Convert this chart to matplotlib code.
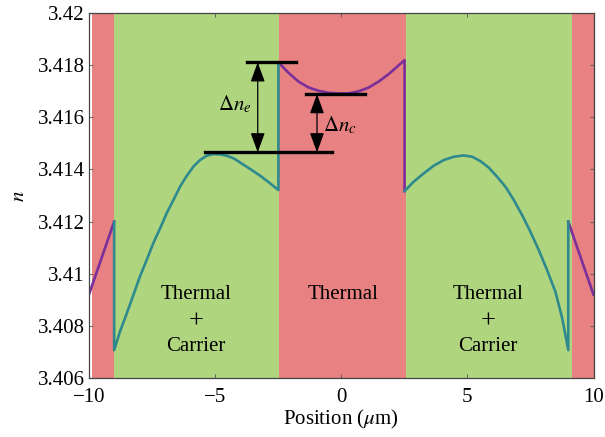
import numpy as np
import matplotlib
matplotlib.use("Agg")
from matplotlib import pyplot as plt

plt.rcParams["font.family"] = ["Liberation Serif", "DejaVu Serif"]
plt.rcParams["mathtext.fontset"] = "stix"
plt.rcParams["font.size"] = 15

# region boundaries (um)
bands = [(-9.88, -9.0, "red"), (-9.0, -2.48, "green"), (-2.48, 2.55, "red"),
         (2.55, 9.15, "green"), (9.15, 10.0, "red")]

# outer thermal-only segments
outer_l_x = [-10.0, -9.5, -9.0]
outer_l_y = [3.4092, 3.4106, 3.4120]
outer_r_x = [9.0, 9.5, 10.0]
outer_r_y = [3.4120, 3.4106, 3.4092]

# thermal + carrier, left
left_x = [-9.0, -9.0, -8.77, -8.50, -8.24, -7.98, -7.71, -7.45, -7.18, -6.92,
          -6.65, -6.39, -6.12, -5.86, -5.60, -5.33, -5.07, -4.80, -4.54, -4.27,
          -4.01, -3.61, -3.21, -2.82, -2.49, -2.49]
left_y = [3.4120, 3.40707, 3.40778, 3.40848, 3.40918, 3.40989, 3.41053, 3.41117,
          3.41174, 3.41232, 3.41283, 3.41334, 3.41376, 3.41411, 3.41436, 3.41453,
          3.41459, 3.41458, 3.41453, 3.41443, 3.41427, 3.41402, 3.41376, 3.41347,
          3.41321, 3.41811]

# thermal only, centre
mid_x = [-2.49, -2.09, -1.69, -1.30, -0.90, -0.50, -0.11, 0.29, 0.69, 1.08,
         1.48, 1.88, 2.21, 2.51, 2.51]
mid_y = [3.41811, 3.41771, 3.41737, 3.41715, 3.41702, 3.41694, 3.41692, 3.41692,
         3.41700, 3.41714, 3.41737, 3.41766, 3.41794, 3.41820, 3.41317]

# thermal + carrier, right
right_x = [2.51, 2.87, 3.27, 3.66, 4.06, 4.46, 4.85, 5.19, 5.52, 5.85, 6.18,
           6.51, 6.84, 7.17, 7.50, 7.83, 8.16, 8.49, 8.76, 9.0, 9.0]
right_y = [3.41317, 3.41353, 3.41385, 3.41414, 3.41436, 3.41449, 3.41454, 3.41449,
           3.41432, 3.41407, 3.41372, 3.41334, 3.41283, 3.41225, 3.41161, 3.41091,
           3.41014, 3.40931, 3.40829, 3.40707, 3.4120]

# annotation levels
n_top_e = 3.41811
n_top_c = 3.41689
n_base = 3.41466

RED = "#e88181"
GREEN = "#b0d57f"
PURPLE = "#7a2f9a"
TEAL = "#2f8a8e"

fig = plt.figure(figsize=(6.05, 4.37), dpi=100)
ax = fig.add_axes([0.147, 0.135, 0.834, 0.835])

for x0, x1, c in bands:
    ax.axvspan(x0, x1, color=RED if c == "red" else GREEN, lw=0, zorder=0)

ax.plot(outer_l_x, outer_l_y, color=PURPLE, lw=1.9, zorder=3)
ax.plot(outer_r_x, outer_r_y, color=PURPLE, lw=1.9, zorder=3)
ax.plot(mid_x, mid_y, color=PURPLE, lw=1.9, zorder=3)
ax.plot(left_x, left_y, color=TEAL, lw=1.9, zorder=3)
ax.plot(right_x, right_y, color=TEAL, lw=1.9, zorder=3)

# level bars
ax.plot([-3.74, -1.81], [n_top_e, n_top_e], color="k", lw=2.4, zorder=4)
ax.plot([-1.39, 0.95], [n_top_c, n_top_c], color="k", lw=2.4, zorder=4)
ax.plot([-5.40, -0.37], [n_base, n_base], color="k", lw=2.4, zorder=4)

arrow = dict(arrowstyle="<|-|>,head_length=0.6,head_width=0.22",
             mutation_scale=20, color="k", lw=0.9, shrinkA=0, shrinkB=0)
ax.annotate("", xy=(-3.31, n_top_e), xytext=(-3.31, n_base), arrowprops=arrow, zorder=5)
ax.annotate("", xy=(-0.96, n_top_c), xytext=(-0.96, n_base), arrowprops=arrow, zorder=5)

ax.text(-3.55, 3.4165, r"$\Delta n_{e}$", ha="right", va="center", fontsize=15)
ax.text(-0.72, 3.4157, r"$\Delta n_{c}$", ha="left", va="center", fontsize=15)

for xc in (-5.75, 5.82):
    ax.text(xc, 3.4092, "Thermal", ha="center", va="center")
    ax.text(xc, 3.40815, "+", ha="center", va="center", fontsize=19)
    ax.text(xc, 3.4072, "Carrier", ha="center", va="center")
ax.text(0.07, 3.4092, "Thermal", ha="center", va="center")

ax.set_xlim(-10, 10)
ax.set_ylim(3.406, 3.42)
ax.set_xticks([-10, -5, 0, 5, 10])
ax.set_xticklabels(["\u221210", "\u22125", "0", "5", "10"])
yt = [3.406, 3.408, 3.41, 3.412, 3.414, 3.416, 3.418, 3.42]
ax.set_yticks(yt)
ax.set_yticklabels(["3.406", "3.408", "3.41", "3.412", "3.414", "3.416", "3.418", "3.42"])
ax.tick_params(direction="in", top=True, right=True, length=3, width=0.6,
               color="#555555", labelsize=15, pad=3)
ax.tick_params(axis="x", pad=7)
for s in ax.spines.values():
    s.set_color("#444444")
    s.set_linewidth(0.9)
    s.set_zorder(6)

ax.set_xlabel(r"Position ($\mu$m)", fontsize=15, labelpad=1)
ax.set_ylabel(r"$n$", fontsize=15, labelpad=6)

fig.savefig("out.png", dpi=100)
